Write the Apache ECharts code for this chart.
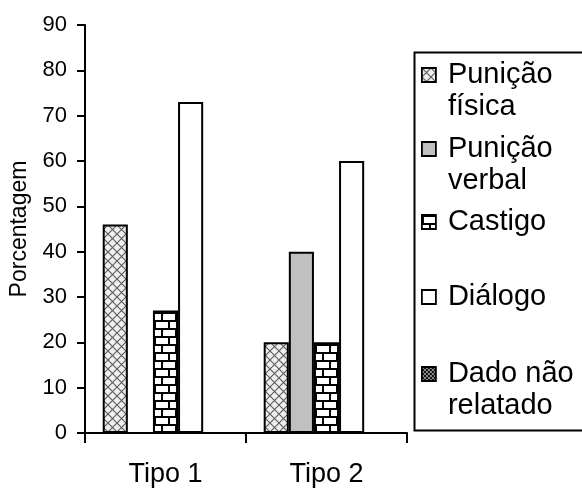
<!DOCTYPE html>
<html>
<head>
<meta charset="utf-8">
<script src="https://cdn.jsdelivr.net/npm/echarts@6/dist/echarts.min.js"></script>
<style>
html,body{margin:0;padding:0;background:#fff;}
#chart{width:582px;height:488px;}
</style>
</head>
<body>
<div id="chart"></div>
<script>
const categories = ['Tipo 1', 'Tipo 2'];
const seriesNames = ['Punição física', 'Punição verbal', 'Castigo', 'Diálogo', 'Dado não relatado'];
const legendLabels = ['Punição\nfísica', 'Punição\nverbal', 'Castigo', 'Diálogo', 'Dado não\nrelatado'];
const punicaoFisica = [46, 20];
const punicaoVerbal = [0, 40];
const castigo = [27, 20];
const dialogo = [73, 60];
const dadoNaoRelatado = [0, 0];
const yTicks = [0, 10, 20, 30, 40, 50, 60, 70, 80, 90];
const yAxisTitle = 'Porcentagem';

function makeTile(w, h, draw) {
  const c = document.createElement('canvas');
  c.width = w; c.height = h;
  const ctx = c.getContext('2d');
  draw(ctx, w, h);
  return { image: c, repeat: 'repeat' };
}
const crossPattern = makeTile(9, 9, (ctx, w, h) => {
  ctx.fillStyle = '#efefef'; ctx.fillRect(0, 0, w, h);
  ctx.strokeStyle = '#5a5a5a'; ctx.lineWidth = 1.1;
  ctx.beginPath();
  ctx.moveTo(0, 0); ctx.lineTo(w, h);
  ctx.moveTo(w, 0); ctx.lineTo(0, h);
  ctx.stroke();
});
const brickPattern = makeTile(14, 16, (ctx, w, h) => {
  ctx.fillStyle = '#ffffff'; ctx.fillRect(0, 0, w, h);
  ctx.fillStyle = '#000000';
  ctx.fillRect(0, 0, w, 2);
  ctx.fillRect(0, 8, w, 2);
  ctx.fillRect(0, 0, 2, 8);
  ctx.fillRect(7, 8, 2, 8);
});
const checkPattern = makeTile(4, 4, (ctx, w, h) => {
  ctx.fillStyle = '#111'; ctx.fillRect(0, 0, w, h);
  ctx.fillStyle = '#8a8a8a';
  ctx.fillRect(0, 0, 2, 2); ctx.fillRect(2, 2, 2, 2);
});

const seriesData = [punicaoFisica, punicaoVerbal, castigo, dialogo, dadoNaoRelatado];
const seriesColors = [crossPattern, '#c0c0c0', brickPattern, '#ffffff', checkPattern];

const legendCenters = [75, 149, 222, 297, 374];
const font = 'Liberation Sans, Arial, sans-serif';

const legends = seriesNames.map((name, i) => {
  const twoLine = legendLabels[i].indexOf('\n') >= 0;
  return {
    orient: 'vertical',
    left: 421,
    top: twoLine ? legendCenters[i] - 48 : legendCenters[i] - 16,
    padding: 0,
    itemWidth: 14,
    itemHeight: 14,
    selectedMode: false,
    icon: 'rect',
    data: [name],
    formatter: () => (twoLine ? '\n' : '') + legendLabels[i],
    itemStyle: { borderColor: '#000', borderWidth: 1.8 },
    textStyle: {
      fontFamily: font, fontSize: 29, lineHeight: 32, color: '#000',
      padding: [0, 0, 0, 7]
    }
  };
});

const chart = echarts.init(document.getElementById('chart'), null, { renderer: 'canvas' });
chart.setOption({
  animation: false,
  backgroundColor: '#fff',
  grid: { left: 85, right: 175, top: 25, bottom: 55, containLabel: false },
  legend: legends,
  graphic: [{
    type: 'rect', left: 412, top: 50,
    shape: { width: 190, height: 378 },
    style: { fill: null, stroke: '#000', lineWidth: 2 }
  }],
  xAxis: {
    type: 'category',
    data: categories,
    axisLine: { lineStyle: { color: '#000', width: 2 } },
    axisTick: { show: true, length: 10, lineStyle: { color: '#000', width: 2 } },
    axisLabel: { color: '#000', fontFamily: font, fontSize: 27, margin: 28 },
    splitLine: { show: false }
  },
  yAxis: {
    type: 'value',
    min: yTicks[0], max: yTicks[yTicks.length - 1], interval: yTicks[1] - yTicks[0],
    name: yAxisTitle,
    nameLocation: 'middle',
    nameRotate: 90,
    nameGap: 52,
    nameTextStyle: { color: '#000', fontFamily: font, fontSize: 23 },
    axisLine: { show: true, lineStyle: { color: '#000', width: 2 } },
    axisTick: { show: true, length: 8, lineStyle: { color: '#000', width: 2 } },
    axisLabel: { color: '#000', fontFamily: font, fontSize: 22, margin: 18 },
    splitLine: { show: false }
  },
  series: seriesNames.map((name, i) => ({
    name: name,
    type: 'bar',
    data: seriesData[i],
    barGap: '0%',
    barCategoryGap: '22%',
    itemStyle: { color: seriesColors[i], borderColor: '#000', borderWidth: 2 }
  }))
});
</script>
</body>
</html>
